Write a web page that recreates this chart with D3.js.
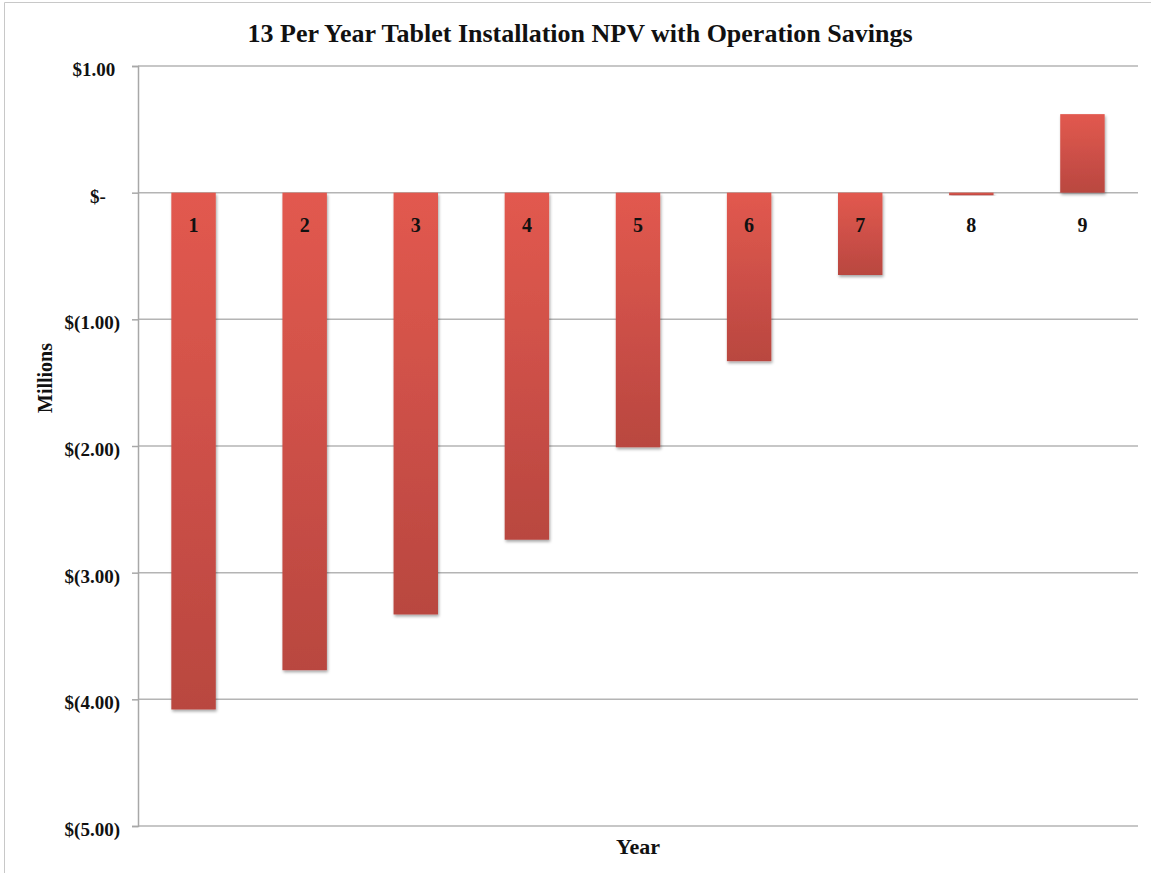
<!DOCTYPE html>
<html>
<head>
<meta charset="utf-8">
<script src="https://cdn.jsdelivr.net/npm/d3@7"></script>
<style>
  body { margin: 0; background: #fff; }
  text { font-family: "Liberation Serif", "Times New Roman", serif; font-weight: bold; fill: #111; }
</style>
</head>
<body>
<div id="container"></div>
<script>
/* DATA */
const years = ["1", "2", "3", "4", "5", "6", "7", "8", "9"]
const npv = [-4.08, -3.77, -3.33, -2.74, -2.01, -1.33, -0.65, -0.02, 0.62]
const yTicks = [1, 0, -1, -2, -3, -4, -5]
// accounting format, trailing spaces keep the $ / ) alignment of the original
const yTickLabels = ["$1.00 ", "$-   ", "$(1.00)", "$(2.00)", "$(3.00)", "$(4.00)", "$(5.00)"]

/* CONSTANTS */
const width = 1151, height = 873
const margin = { top: 66, bottom: 47, left: 138, right: 13 }

const svg = d3.select("#container")
  .append("svg")
  .attr("width", width)
  .attr("height", height)

// light frame, left + top only like the screenshot
svg.append("path")
  .attr("d", `M4.5,${height} V2.5 H${width}`)
  .attr("fill", "none")
  .attr("stroke", "#c8c8c8")

// SCALES
const xScale = d3.scaleBand()
  .domain(years)
  .range([margin.left, width - margin.right])
  .paddingInner(0.6)
  .paddingOuter(0.3)

const yScale = d3.scaleLinear()
  .domain([-5, 1])
  .range([height - margin.bottom, margin.top])

// gradient for bars
const defs = svg.append("defs")
const grad = defs.append("linearGradient")
  .attr("id", "barGrad")
  .attr("x1", 0).attr("y1", 0).attr("x2", 0).attr("y2", 1)
grad.append("stop").attr("offset", "0%").attr("stop-color", "#e2594f")
grad.append("stop").attr("offset", "100%").attr("stop-color", "#b94740")

const shadow = defs.append("filter").attr("id", "shadow")
  .attr("x", "-20%").attr("y", "-20%").attr("width", "140%").attr("height", "140%")
shadow.append("feDropShadow")
  .attr("dx", 1).attr("dy", 2).attr("stdDeviation", 1.5)
  .attr("flood-color", "#000").attr("flood-opacity", 0.35)

// GRIDLINES
svg.append("g")
  .attr("class", "grid")
  .selectAll("line")
  .data(yTicks)
  .join("line")
  .attr("x1", margin.left)
  .attr("x2", width - margin.right)
  .attr("y1", d => yScale(d))
  .attr("y2", d => yScale(d))
  .attr("stroke", "#b4b4b4")
  .attr("stroke-width", 1.5)

// BARS
svg.selectAll(".bar")
  .data(npv)
  .join("rect")
  .attr("class", "bar")
  .attr("x", (d, i) => xScale(years[i]))
  .attr("width", xScale.bandwidth())
  .attr("y", d => yScale(Math.max(0, d)))
  .attr("height", d => Math.abs(yScale(d) - yScale(0)))
  .attr("fill", "url(#barGrad)")
  .attr("filter", "url(#shadow)")

// Y AXIS
const yAxis = d3.axisLeft(yScale)
  .tickValues(yTicks)
  .tickSize(6)
  .tickFormat((d, i) => yTickLabels[i])

const yG = svg.append("g")
  .attr("transform", `translate(${margin.left},0)`)
  .call(yAxis)
yG.select(".domain").attr("stroke", "#a8a8a8").attr("stroke-width", 1.5)
yG.selectAll(".tick line").attr("stroke", "#a8a8a8").attr("stroke-width", 1.5)
yG.selectAll(".tick text")
  .attr("x", -18)
  .attr("dy", "0.5em")
  .style("white-space", "pre")
  .attr("font-size", 19)
  .attr("font-family", "Liberation Serif, Times New Roman, serif")
  .attr("font-weight", "bold")
  .attr("fill", "#111")

// X category labels sit just under the zero line
svg.append("g")
  .selectAll("text")
  .data(years)
  .join("text")
  .attr("x", d => xScale(d) + xScale.bandwidth() / 2)
  .attr("y", yScale(0) + 39)
  .attr("text-anchor", "middle")
  .attr("font-size", 20)
  .text(d => d)

// TITLES
svg.append("text")
  .attr("x", 580)
  .attr("y", 42)
  .attr("text-anchor", "middle")
  .attr("font-size", 26)
  .text("13 Per Year Tablet Installation NPV with Operation Savings")

svg.append("text")
  .attr("transform", `translate(52,378) rotate(-90)`)
  .attr("text-anchor", "middle")
  .attr("font-size", 20)
  .text("Millions")

svg.append("text")
  .attr("x", 638)
  .attr("y", 854)
  .attr("text-anchor", "middle")
  .attr("font-size", 22)
  .text("Year")
</script>
</body>
</html>
